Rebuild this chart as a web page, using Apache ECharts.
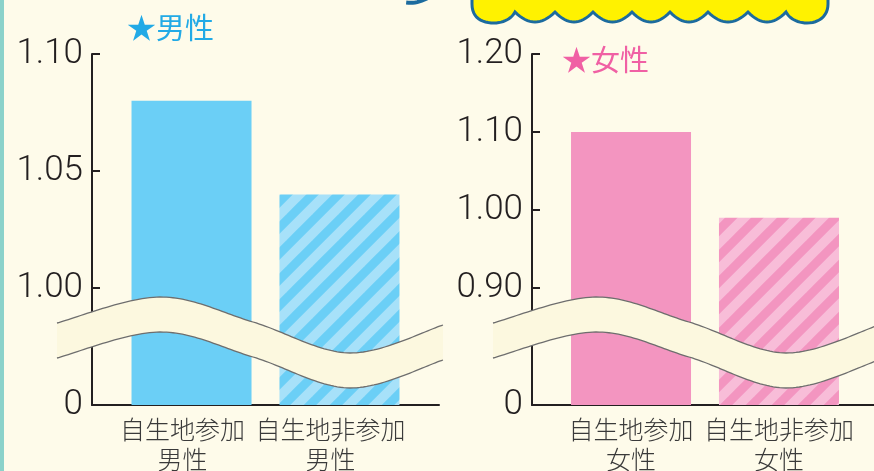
<!DOCTYPE html>
<html>
<head>
<meta charset="utf-8">
<script src="https://cdn.jsdelivr.net/npm/echarts@6.0.0/dist/echarts.min.js"></script>
<style>
  html, body { margin: 0; padding: 0; background: #fefbea; }
  #chart { width: 874px; height: 471px; }
</style>
</head>
<body>
<div id="chart"></div>
<script>
// Bar categories (two-line labels under each bar)
const categoriesMale = ['自生地参加\n男性', '自生地非参加\n男性'];
const categoriesFemale = ['自生地参加\n女性', '自生地非参加\n女性'];

// Bar values
const valuesMale = [1.08, 1.04];
const valuesFemale = [1.10, 0.99];

// Y-axis ticks; the lowest tick sits below the axis break and reads "0"
const ticksMale = [0.95, 1.00, 1.05, 1.10];
const tickLabelsMale = ['0', '1.00', '1.05', '1.10'];
const ticksFemale = [0.75, 0.90, 1.00, 1.10, 1.20];
const tickLabelsFemale = ['0', '0.90', '1.00', '1.10', '1.20'];

// Panel headings
const titleMale = '★男性';
const titleFemale = '★女性';

const BG = '#fefbea';
const INK = '#231f20';
const BAND = '#fcf8df';
const BAND_EDGE = '#6e6e6e';

// Diagonal stripe tile used for the "non-participant" bars
function stripeTile(base, light) {
  const s = 26;
  const c = document.createElement('canvas');
  c.width = s; c.height = s;
  const g = c.getContext('2d');
  g.fillStyle = base;
  g.fillRect(0, 0, s, s);
  g.strokeStyle = light;
  g.lineWidth = 9.5;
  for (let k = -2; k <= 2; k++) {
    g.beginPath();
    g.moveTo(k * s - s, 2 * s);
    g.lineTo(k * s + 2 * s, -s);
    g.stroke();
  }
  return c;
}

const BLUE = '#6bcff6';
const BLUE_LIGHT = '#a7e1f9';
const PINK = '#f395c0';
const PINK_LIGHT = '#f8bdd8';

function tickFormatter(ticks, labels) {
  return function (v) {
    for (let i = 0; i < ticks.length; i++) {
      if (Math.abs(ticks[i] - v) < 1e-6) return labels[i];
    }
    return '';
  };
}

// Point sampling of Bezier segments
function cubicPts(p0, c1, c2, p3, n) {
  const out = [];
  for (let i = 1; i <= n; i++) {
    const t = i / n, u = 1 - t;
    out.push([
      u * u * u * p0[0] + 3 * u * u * t * c1[0] + 3 * u * t * t * c2[0] + t * t * t * p3[0],
      u * u * u * p0[1] + 3 * u * u * t * c1[1] + 3 * u * t * t * c2[1] + t * t * t * p3[1]
    ]);
  }
  return out;
}
function quadPts(p0, c, p1, n) {
  const out = [];
  for (let i = 1; i <= n; i++) {
    const t = i / n, u = 1 - t;
    out.push([
      u * u * p0[0] + 2 * u * t * c[0] + t * t * p1[0],
      u * u * p0[1] + 2 * u * t * c[1] + t * t * p1[1]
    ]);
  }
  return out;
}

// Smooth curve through control points (Catmull-Rom as cubic Bezier)
function curve(pts) {
  let out = [pts[0].slice()];
  for (let i = 0; i < pts.length - 1; i++) {
    const p0 = pts[i - 1] || pts[i];
    const p1 = pts[i];
    const p2 = pts[i + 1];
    const p3 = pts[i + 2] || p2;
    const c1 = [p1[0] + (p2[0] - p0[0]) / 6, p1[1] + (p2[1] - p0[1]) / 6];
    const c2 = [p2[0] - (p3[0] - p1[0]) / 6, p2[1] - (p3[1] - p1[1]) / 6];
    out = out.concat(cubicPts(p1, c1, c2, p2, 30));
  }
  return out;
}

// Wavy axis-break band
function breakBand(dx) {
  const upper = [[57, 323], [160, 297], [253, 322], [350, 353], [443, 325]]
    .map(p => [p[0] + dx, p[1]]);
  const lower = upper.map(p => [p[0], p[1] + 35]);
  const top = curve(upper);
  const bottom = curve(lower);
  return [
    { type: 'polygon', z: 100, shape: { points: top.concat(bottom.slice().reverse()) },
      style: { fill: BAND, stroke: null } },
    { type: 'polyline', z: 101, shape: { points: top },
      style: { fill: null, stroke: BAND_EDGE, lineWidth: 1.3 } },
    { type: 'polyline', z: 101, shape: { points: bottom },
      style: { fill: null, stroke: BAND_EDGE, lineWidth: 1.3 } }
  ];
}

// Scalloped banner peeking in at the top
function bannerPoints() {
  let pts = [[472, -8], [472, 4]];
  pts = pts.concat(cubicPts([472, 4], [472, 18], [482, 23], [494, 23], 12));
  pts = pts.concat(cubicPts([494, 23], [504, 23], [512, 18], [515, 12], 12));
  const cusps = [515, 555, 593, 632, 670, 708, 748, 786];
  for (let i = 0; i < cusps.length - 1; i++) {
    const a = cusps[i], b = cusps[i + 1];
    pts = pts.concat(quadPts([a, 12], [(a + b) / 2, 32], [b, 12], 16));
  }
  pts = pts.concat(cubicPts([786, 12], [789, 18], [797, 23], [807, 23], 12));
  pts = pts.concat(cubicPts([807, 23], [819, 23], [828, 16], [828, 4], 12));
  pts.push([828, -8]);
  return pts;
}

function yAxisFor(grid, ticks, labels) {
  return {
    gridIndex: grid,
    type: 'value',
    min: ticks[0],
    max: ticks[ticks.length - 1],
    axisLine: { show: true, lineStyle: { color: INK, width: 2 } },
    axisTick: { show: true, inside: true, length: 8, customValues: ticks, lineStyle: { color: INK, width: 2 } },
    axisLabel: {
      customValues: ticks,
      formatter: tickFormatter(ticks, labels),
      color: INK,
      fontFamily: 'Roboto',
      fontWeight: 300,
      fontSize: 35,
      margin: 9,
      padding: [0, 0, 14, 0]
    },
    splitLine: { show: false }
  };
}

function xAxisFor(grid) {
  return {
    gridIndex: grid,
    type: 'category',
    data: [''],
    axisLine: { show: true, onZero: false, lineStyle: { color: INK, width: 2 } },
    axisTick: { show: false },
    axisLabel: { show: false }
  };
}

function barSeries(grid, name, value, color, offset) {
  return {
    type: 'bar',
    name: name,
    xAxisIndex: grid,
    yAxisIndex: grid,
    data: [value],
    barWidth: 120,
    barGap: '23.3%',
    itemStyle: { color: color },
    label: {
      show: true,
      position: 'bottom',
      distance: 9,
      offset: offset,
      formatter: name,
      fontFamily: 'Noto Sans CJK JP',
      fontWeight: 300,
      fontSize: 25,
      lineHeight: 30,
      color: '#3a3a3a'
    }
  };
}

const chart = echarts.init(document.getElementById('chart'), null, { renderer: 'canvas' });

const option = {
  animation: false,
  backgroundColor: BG,
  title: [
    { text: titleMale, left: 127, top: 13, padding: 0,
      textStyle: { color: '#22aae6', fontSize: 29, fontWeight: 'normal', fontFamily: 'Noto Sans CJK JP' } },
    { text: titleFemale, left: 562, top: 45, padding: 0,
      textStyle: { color: '#f060a4', fontSize: 29, fontWeight: 'normal', fontFamily: 'Noto Sans CJK JP' } }
  ],
  grid: [
    { left: 92, right: 435, top: 54, bottom: 66, outerBoundsMode: 'none' },
    { left: 532, right: -4, top: 54, bottom: 66, outerBoundsMode: 'none' }
  ],
  xAxis: [xAxisFor(0), xAxisFor(1)],
  yAxis: [
    yAxisFor(0, ticksMale, tickLabelsMale),
    yAxisFor(1, ticksFemale, tickLabelsFemale)
  ],
  series: [
    barSeries(0, categoriesMale[0], valuesMale[0], BLUE, [-9, 0]),
    barSeries(0, categoriesMale[1], valuesMale[1],
      { image: stripeTile(BLUE, BLUE_LIGHT), repeat: 'repeat' }, [-9, 0]),
    barSeries(1, categoriesFemale[0], valuesFemale[0], PINK, [0, 0]),
    barSeries(1, categoriesFemale[1], valuesFemale[1],
      { image: stripeTile(PINK, PINK_LIGHT), repeat: 'repeat' }, [0, 0])
  ],
  graphic: [
    { type: 'rect', z: 90, shape: { x: 0, y: 0, width: 4, height: 471 }, style: { fill: '#8bd2ca' } },
    { type: 'polygon', z: 90, shape: { points: bannerPoints() },
      style: { fill: '#fff200', stroke: '#1c6b9e', lineWidth: 3 } },
    { type: 'polyline', z: 90, shape: { points: quadPts([404, 2], [417, 5], [431, -4], 12) },
      style: { fill: null, stroke: '#1c6b9e', lineWidth: 4 } }
  ].concat(breakBand(0), breakBand(436))
};

chart.setOption(option);
</script>
</body>
</html>
